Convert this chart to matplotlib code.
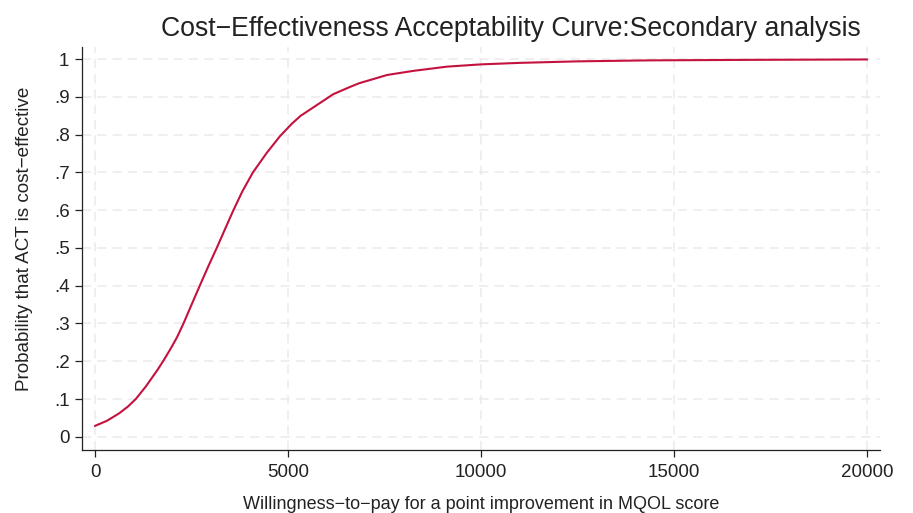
import numpy as np
import matplotlib
matplotlib.use("Agg")
import matplotlib.pyplot as plt
from matplotlib.ticker import FuncFormatter

plt.rcParams["font.family"] = ["Liberation Sans", "DejaVu Sans"]

# ── Data ───────────────────────────────────────────────────────────────────
wtp = [0, 300, 622, 850, 1054, 1313, 1616, 1761, 1950, 2120, 2290, 2500,
       2712, 2927, 3152, 3367, 3584, 3817, 4090, 4450, 4800, 5110, 5328,
       5580, 6170, 6623, 6840, 7570, 8260, 9120, 10000, 11010, 12500,
       14370, 17000, 20000]
prob = [0.029, 0.042, 0.062, 0.080, 0.100, 0.133, 0.177, 0.200, 0.232,
        0.263, 0.300, 0.350, 0.400, 0.450, 0.500, 0.550, 0.600, 0.650,
        0.700, 0.752, 0.797, 0.830, 0.850, 0.867, 0.907, 0.927, 0.936,
        0.958, 0.969, 0.980, 0.986, 0.990, 0.994, 0.9966, 0.998, 0.999]

x_ticks = [0, 5000, 10000, 15000, 20000]
y_ticks = [0, .1, .2, .3, .4, .5, .6, .7, .8, .9, 1]

TITLE  = "Cost\u2212Effectiveness Acceptability Curve:Secondary analysis"
XLABEL = "Willingness\u2212to\u2212pay for a point improvement in MQOL score"
YLABEL = "Probability that ACT is cost\u2212effective"

LINE_C = "#c4123f"
GRID_C = "#ebebeb"
TEXT_C = "#222222"

fig = plt.figure(figsize=(9.13, 5.13), dpi=100)
ax  = fig.add_axes([82/913, 1-450/513, (880-82)/913, (450-47)/513])

ax.plot(wtp, prob, color=LINE_C, lw=1.5)

ax.set_xlim(-340, 20340)
ax.set_ylim(-0.035, 1.032)
ax.set_xticks(x_ticks)
ax.set_yticks(y_ticks)

def yfmt(v, _):
    if abs(v) < 1e-9: return "0"
    if abs(v-1) < 1e-9: return "1"
    return f"{v:.1f}".lstrip("0")

ax.yaxis.set_major_formatter(FuncFormatter(yfmt))
ax.tick_params(axis="both", labelsize=13.5, colors=TEXT_C, length=5,
               width=0.9, direction="out")
ax.tick_params(axis="y", pad=4)
ax.tick_params(axis="x", pad=5)

ax.grid(True, color=GRID_C, lw=1.1, ls=(0, (6, 4)))
ax.set_axisbelow(True)
for s in ("top", "right"):
    ax.spines[s].set_visible(False)
for s in ("left", "bottom"):
    ax.spines[s].set_color(TEXT_C); ax.spines[s].set_linewidth(0.9)

ax.set_xlabel(XLABEL, fontsize=13, color=TEXT_C, labelpad=11)
ax.set_ylabel(YLABEL, fontsize=13.6, color=TEXT_C)
ax.yaxis.set_label_coords(-0.062, 0.523)

fig.text(511/913, 1-29/513, TITLE, ha="center", va="center",
         fontsize=19.2, color=TEXT_C)

fig.savefig("out.png", dpi=100)
